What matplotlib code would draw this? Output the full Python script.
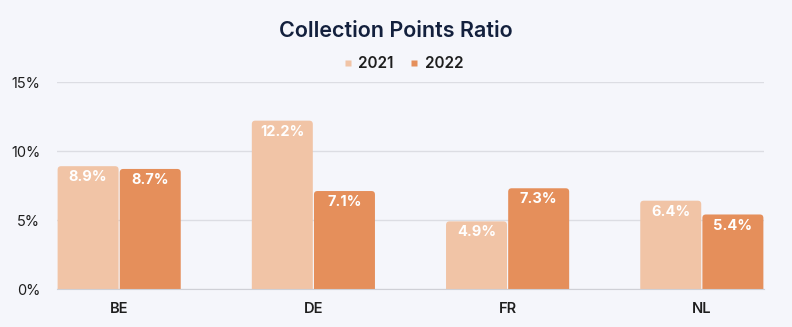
import matplotlib
matplotlib.use("Agg")
import matplotlib.pyplot as plt
from matplotlib.lines import Line2D
from matplotlib.patches import FancyBboxPatch

# ---- Data ----
countries = ["BE", "DE", "FR", "NL"]
years = ["2021", "2022"]
ratio_2021 = [8.9, 12.2, 4.9, 6.4]
ratio_2022 = [8.7, 7.1, 7.3, 5.4]
y_ticks = [0, 5, 10, 15]

# ---- Style ----
BG = "#F5F6FB"
COLORS = ["#F1C4A6", "#E58F5B"]
TEXT = "#1E1E1E"
plt.rcParams.update({
    "font.family": ["Inter", "DejaVu Sans"],
})

fig = plt.figure(figsize=(7.92, 3.27), dpi=100, facecolor=BG)
ax = fig.add_axes([0.072, 0.1162, 0.8926, 0.633])
ax.set_facecolor(BG)

width = 0.32
x = list(range(len(countries)))
series = [ratio_2021, ratio_2022]
offsets = [-width / 2, width / 2]

for vals, off, color in zip(series, offsets, COLORS):
    bars = ax.bar([i + off for i in x], vals, width=width, color=color,
                  edgecolor="none", zorder=2)
    # swap plain rectangles for ones with rounded top corners
    for b, v in zip(bars, vals):
        b.set_visible(False)
        r = 0.018
        patch = FancyBboxPatch((b.get_x() + 0.003, -1), b.get_width() - 0.006, v + 1,
                               boxstyle=f"round,pad=0,rounding_size={r}",
                               mutation_aspect=14.0, facecolor=color,
                               edgecolor="none", zorder=2, clip_on=True)
        ax.add_patch(patch)
        ax.annotate(f"{v}%", (b.get_x() + b.get_width() / 2, v),
                    xytext=(0, -8), textcoords="offset points",
                    ha="center", va="center", color="white",
                    fontsize=10.5, fontweight="bold", zorder=3)

ax.set_xlim(-0.32, 3.32)
ax.set_ylim(0, 15)
ax.set_yticks(y_ticks)
ax.set_yticklabels([f"{t}%" for t in y_ticks])
ax.set_xticks(x)
ax.set_xticklabels(countries, fontweight="semibold")
ax.tick_params(axis="both", length=0, labelsize=10.5, colors=TEXT)
ax.tick_params(axis="y", pad=12)
ax.tick_params(axis="x", pad=9)
ax.grid(axis="y", color="#DCDDE3", linewidth=1, zorder=0)
for side in ["top", "right", "left"]:
    ax.spines[side].set_visible(False)
ax.spines["bottom"].set_color("#CFD0D6")

fig.text(0.5, 0.905, "Collection Points Ratio", ha="center", va="center",
         fontsize=15.5, fontweight="semibold", color="#13203D")

handles = [Line2D([], [], marker="s", linestyle="none", markersize=4.5,
                  markerfacecolor=c, markeredgecolor="none") for c in COLORS]
fig.legend(handles, years, loc="center", bbox_to_anchor=(0.508, 0.805),
           ncol=2, frameon=False, handletextpad=0.3, columnspacing=0.9,
           handlelength=0.8, prop={"size": 11, "weight": "semibold"},
           labelcolor=TEXT)

fig.savefig("out.png", dpi=100, facecolor=BG)
